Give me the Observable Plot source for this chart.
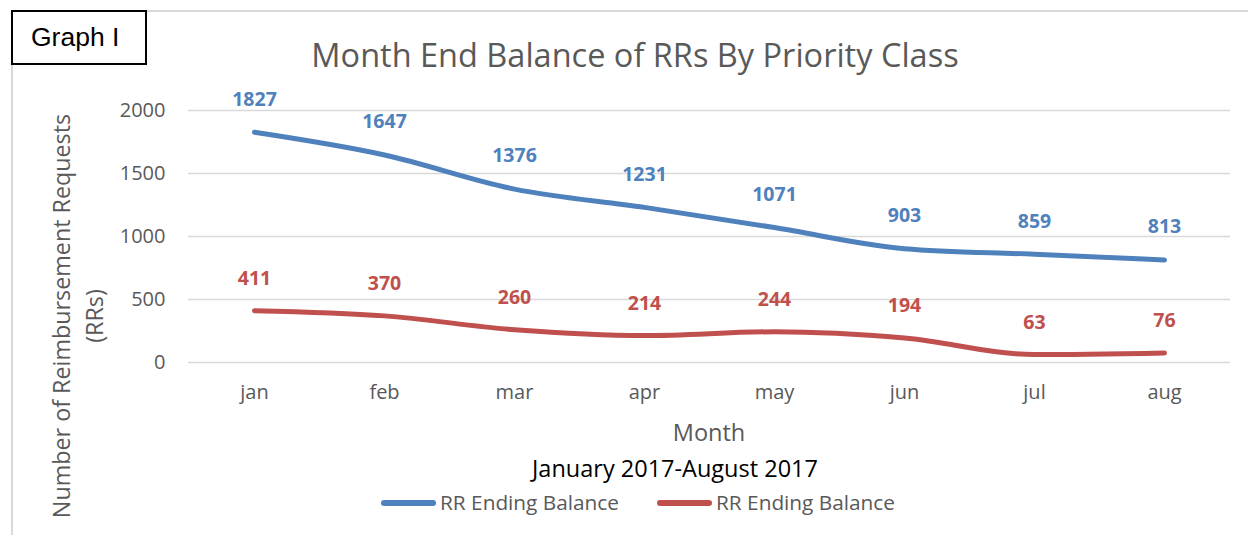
<!DOCTYPE html>
<html><head><meta charset="utf-8">
<script src="https://cdn.jsdelivr.net/npm/d3@7"></script>
<script src="https://cdn.jsdelivr.net/npm/@observablehq/plot@0.6"></script>
<style>
body{margin:0;background:#fff;}
#wrap{position:relative;width:1248px;height:535px;overflow:hidden;font-family:"Open Sans",Lato,sans-serif;}
.abs{position:absolute;white-space:nowrap;}
</style></head><body>
<div id="wrap"></div>
<script>
const months = ["jan","feb","mar","apr","may","jun","jul","aug"];
const seriesNames = ["RR Ending Balance","RR Ending Balance"];
const blueValues = [1827,1647,1376,1231,1071,903,859,813];
const redValues = [411,370,260,214,244,194,63,76];
const yTicks = [0,500,1000,1500,2000];
const colors = ["#4F81BD","#C0504D"];

const blue = months.map((m,i)=>({month:m,value:blueValues[i]}));
const red = months.map((m,i)=>({month:m,value:redValues[i]}));

const chart = Plot.plot({
  width:1248, height:535,
  marginLeft:188, marginRight:18, marginTop:110, marginBottom:173,
  style:{fontFamily:"'Open Sans', Lato, sans-serif", background:"transparent"},
  x:{type:"point", domain:months, padding:0.5, label:null},
  y:{domain:[0,2000], label:null},
  marks:[
    Plot.gridY(yTicks,{stroke:"#d9d9d9", strokeOpacity:1, strokeWidth:1.5}),
    Plot.axisY(yTicks,{tickSize:0, tickPadding:23, fontSize:20, fill:"#595959", label:null, tickFormat:d3.format("d")}),
    Plot.axisX({tickSize:0, tickPadding:22, fontSize:20, fill:"#595959", label:null}),
    Plot.line(blue,{x:"month",y:"value",stroke:colors[0],strokeWidth:5,curve:"monotone-x",strokeLinecap:"round"}),
    Plot.line(red,{x:"month",y:"value",stroke:colors[1],strokeWidth:5,curve:"monotone-x",strokeLinecap:"round"}),
    Plot.text(blue,{x:"month",y:"value",text:d=>String(d.value),dy:-33,fill:colors[0],fontSize:19.5,fontWeight:"bold"}),
    Plot.text(red,{x:"month",y:"value",text:d=>String(d.value),dy:-32,fill:colors[1],fontSize:19.5,fontWeight:"bold"})
  ]
});
chart.style.position="absolute"; chart.style.left="0"; chart.style.top="0";
const wrap=document.getElementById("wrap");
wrap.appendChild(chart);

function add(html,css){const d=document.createElement("div");d.className="abs";d.innerHTML=html;Object.assign(d.style,css);wrap.appendChild(d);return d;}
// outer frame lines
add("",{left:"11px",top:"10px",width:"1237px",height:"525px",borderTop:"2px solid #d9d9d9",borderLeft:"2px solid #d9d9d9"});
// Graph I box
add("Graph I",{left:"11px",top:"10px",width:"136px",height:"55px",border:"2px solid #000",background:"#fff",fontFamily:"'Liberation Sans',Arial,sans-serif",fontSize:"26.5px",lineHeight:"51px",textAlign:"left",paddingLeft:"18px",color:"#000",boxSizing:"border-box"});
// title
add("Month End Balance of RRs By Priority Class",{left:"635px",top:"55px",transform:"translate(-50%,-50%)",fontSize:"32.5px",lineHeight:"1",color:"#595959"});
// y label
add("Number of Reimbursement Requests<br>(RRs)",{left:"78px",top:"316px",transform:"translate(-50%,-50%) rotate(-90deg)",fontSize:"23.3px",color:"#595959",textAlign:"center",lineHeight:"33px"});
// x label
add("Month",{left:"709px",top:"433px",transform:"translate(-50%,-50%)",fontSize:"23.5px",lineHeight:"1",color:"#595959"});
// subtitle
add("January 2017-August 2017",{left:"675px",top:"469px",transform:"translate(-50%,-50%)",fontSize:"23.5px",lineHeight:"1",color:"#000"});
// legend
function leg(x,color,name){
  add("",{left:x+"px",top:"500px",width:"55px",height:"5.5px",borderRadius:"3px",background:color});
  add(name,{left:(x+59)+"px",top:"502px",transform:"translateY(-50%)",fontSize:"20.8px",lineHeight:"1",color:"#595959"});
}
leg(381,colors[0],seriesNames[0]);
leg(657,colors[1],seriesNames[1]);
</script>
</body></html>
